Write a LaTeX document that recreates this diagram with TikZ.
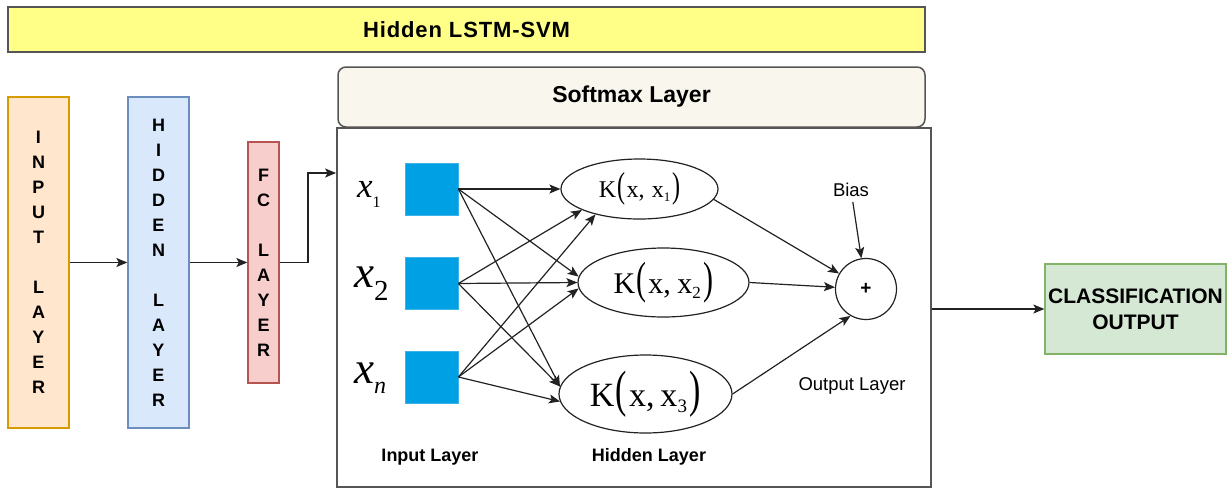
\documentclass[tikz,border=0pt]{standalone}
\usepackage{fontspec}
\usepackage{graphicx}
\setmainfont{Liberation Sans}
\newfontfamily\timesf{Liberation Serif}
\usetikzlibrary{arrows.meta,shapes.geometric}

\definecolor{titlefill}{HTML}{FFFF88}
\definecolor{softfill}{HTML}{F9F7ED}
\definecolor{frame}{HTML}{555555}
\definecolor{inpfill}{HTML}{FFE6CC}
\definecolor{inpdraw}{HTML}{D79B00}
\definecolor{hidfill}{HTML}{DAE8FC}
\definecolor{hiddraw}{HTML}{6C8EBF}
\definecolor{fcfill}{HTML}{F8CECC}
\definecolor{fcdraw}{HTML}{B85450}
\definecolor{outfill}{HTML}{D5E8D4}
\definecolor{outdraw}{HTML}{82B366}
\definecolor{unitblue}{HTML}{00A0E4}
\definecolor{unitedge}{HTML}{3DB3EA}
\definecolor{ink}{HTML}{222222}

\newcommand\fsz[1]{\fontsize{#1}{#1}\selectfont}
% kernel term K(x, x_i): font size, gap, subscript
\newcommand\kterm[3]{{\timesf\fsz{#1}K\hspace{0.04em}\scalebox{1}[1.5]{(}\hspace{0.06em}x,\hspace{#2}x\raisebox{-0.18em}{\fsz{\numexpr #1*11/20\relax}#3}\hspace{0.08em}\scalebox{1}[1.5]{)}}}

\begin{document}
\begin{tikzpicture}[x=1pt,y=-1pt,
  arr/.style={-{Stealth[length=11pt,width=9pt,inset=2.5pt]}, line width=1.2pt, draw=ink},
  layerbox/.style={rectangle, line width=1.3pt, align=center, inner sep=0pt,
    font=\fontsize{18}{25}\selectfont\bfseries},
  unit/.style={rectangle, fill=unitblue, draw=unitedge, line width=0.8pt,
    minimum width=53, minimum height=52, inner sep=0pt},
  kbox/.style={ellipse, draw=ink, line width=1.2pt, inner sep=0pt},
  caption/.style={inner sep=0pt, font=\fsz{18}\bfseries},
  plain/.style={inner sep=0pt, font=\fsz{18.5}}]
\useasboundingbox (0,0) rectangle (1227,488);

% header bars
\node[rectangle, fill=titlefill, draw=frame, line width=1.5pt,
  minimum width=917, minimum height=45, inner sep=0pt,
  font=\fsz{22}\bfseries\addfontfeature{LetterSpace=4}] (title) at (466.5,29.5) {Hidden LSTM-SVM};
\node[rectangle, rounded corners=8pt, fill=softfill, draw=frame, line width=1.5pt,
  minimum width=587, minimum height=60, inner sep=0pt,
  font=\fsz{23}\bfseries] (soft) at (631.5,97) {Softmax Layer};

% outer frame of the RBF network
\node[rectangle, draw=frame, line width=1.8pt, minimum width=594, minimum height=359,
  inner sep=0pt] (net) at (634,307.5) {};

% stacked layers on the left
\node[layerbox, fill=inpfill, draw=inpdraw, minimum width=61, minimum height=331]
  (inp) at (38.5,262.5) {I\\N\\P\\U\\T\\[25pt]L\\A\\Y\\E\\R};
\node[layerbox, fill=hidfill, draw=hiddraw, minimum width=61, minimum height=331]
  (hid) at (158.5,262.5) {H\\I\\D\\D\\E\\N\\[25pt]L\\A\\Y\\E\\R};
\node[layerbox, fill=fcfill, draw=fcdraw, minimum width=31, minimum height=241]
  (fc) at (263.5,262.5) {F\\C\\[25pt]L\\A\\Y\\E\\R};

\draw[arr] (inp.east) -- (hid.west);
\draw[arr] (hid.east) -- (fc.west);
\coordinate (bend) at (308,173);
\draw[arr] (fc.east) -| (bend) -- (bend -| net.west);

% input units
\node[unit] (s1) at (431.5,189) {};
\node[unit] (s2) at (431.5,283.5) {};
\node[unit] (s3) at (431.5,377) {};

\node[inner sep=0pt, anchor=base west] (x1) at (357,197)
  {{\timesf\fsz{35}\itshape x}\raisebox{-10pt}{\timesf\fsz{16}1}};
\node[inner sep=0pt, anchor=base west] (x2) at (354,287)
  {{\timesf\fsz{45}\itshape x}\raisebox{-13pt}{\timesf\fsz{29}2}};
\node[inner sep=0pt, anchor=base west] (xn) at (354,383)
  {{\timesf\fsz{45}\itshape x}\raisebox{-10pt}{\timesf\fsz{24}\itshape n}};

% kernel units
\node[kbox, minimum width=157, minimum height=60] (e1) at (639.5,189) {\kterm{24}{0.3em}{1}};
\node[kbox, minimum width=171, minimum height=69] (e2) at (663.5,282.5) {\kterm{30}{0.22em}{2}};
\node[kbox, minimum width=173, minimum height=78] (e3) at (645.5,394) {\kterm{34}{0.17em}{3}};

\draw[arr] (s1.east) -- (e1.west);
\draw[arr] (s1.east) -- (e2.176);
\draw[arr] (s1.east) -- (e3.175);
\draw[arr] (s2.east) -- (e1.200);
\draw[arr] (s2.east) -- (e2.180);
\draw[arr] (s2.east) -- (e3.175);
\draw[arr] (s3.east) -- (e1.210);
\draw[arr] (s3.east) -- (e2.184);
\draw[arr] (s3.east) -- (e3.185);

% summation unit
\node[circle, draw=ink, line width=1.2pt, minimum size=61, inner sep=0pt,
  font=\fsz{19}\bfseries] (sum) at (866,289) {+};
\node[plain] (bias) at (851,190) {Bias};
\draw[arr, shorten <=5pt] (bias) -- (sum);
\draw[arr] (e1.-8) -- (sum.150);
\draw[arr] (e2.east) -- (sum);
\draw[arr] (e3.east) -- (sum.240);

% captions
\node[caption] (capin) at (430,457) {Input Layer};
\node[caption] (caphid) at (649,457) {Hidden Layer};
\node[plain] (capout) at (852,386) {Output Layer};

% result
\node[rectangle, fill=outfill, draw=outdraw, line width=1.3pt, minimum width=181,
  minimum height=90, inner sep=0pt, align=center,
  font=\fontsize{21}{26}\selectfont\bfseries] (cls) at (1135.5,309) {CLASSIFICATION\\OUTPUT};
\draw[arr] (cls.west -| net.east) -- (cls.west);
\end{tikzpicture}
\end{document}
